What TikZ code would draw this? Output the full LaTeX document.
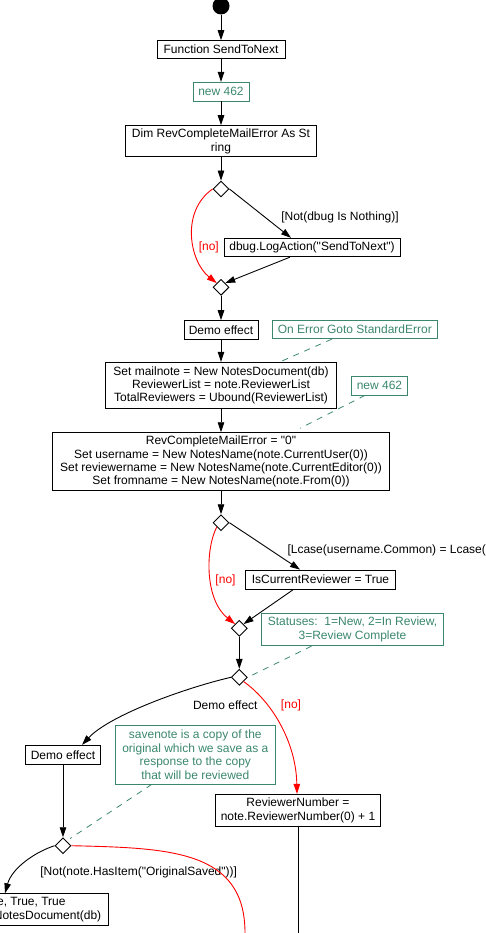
\documentclass[tikz,border=0pt]{standalone}
\usepackage{fontspec}
\setmainfont{Liberation Sans}[Ligatures=TeXOff]
\usetikzlibrary{arrows.meta,shapes.geometric}
\definecolor{notegreen}{RGB}{58,135,108}
\definecolor{flowred}{RGB}{255,0,0}
\newcommand{\sq}{\symbol{34}}
\begin{document}
\begin{tikzpicture}[x=1pt,y=-1pt,
  font=\fontsize{12pt}{13.4pt}\selectfont,
  box/.style={draw, line width=0.9pt, inner sep=0pt, align=center},
  note/.style={draw=notegreen, text=notegreen, line width=0.9pt, inner sep=0pt, align=center},
  dia/.style={draw, diamond, line width=0.9pt, minimum width=16pt, minimum height=16pt, inner sep=0pt, fill=white},
  arr/.style={line width=0.9pt, -{Triangle[length=10pt,width=6.5pt]}},
  noarr/.style={line width=0.9pt, flowred, -{Triangle[length=10pt,width=6.5pt]}},
  noline/.style={line width=0.9pt, flowred},
  plain/.style={line width=0.9pt},
  link/.style={notegreen, line width=0.8pt, dash pattern=on 6pt off 6pt},
  lbl/.style={inner sep=0pt},
  nolbl/.style={inner sep=0pt, text=flowred}]
\useasboundingbox (0,0) rectangle (486,933);

% nodes
\node[circle, fill=black, minimum size=17pt, inner sep=0pt] (start) at (221,6) {};
\node[box, minimum width=128pt, minimum height=17.6pt] (f1) at (221,49.5) {Function SendToNext};
\node[note, minimum width=56pt, minimum height=18.7pt] (n1) at (221,91.7) {new 462};
\node[box, minimum width=191.6pt, minimum height=31.3pt] (dim) at (221,141.3) {Dim RevCompleteMailError As St\\ring};
\node[dia] (d1) at (221,189) {};
\node[box, minimum width=176pt, minimum height=18.4pt] (dbug) at (312,247.5) {dbug.LogAction(\sq SendToNext\sq)};
\node[dia] (d2) at (221,287.3) {};
\node[box, minimum width=74pt, minimum height=18.3pt] (demo1) at (221,329.8) {Demo effect};
\node[note, minimum width=165pt, minimum height=18pt] (onerr) at (354.8,329.7) {On Error Goto StandardError};
\node[box, minimum width=231.7pt, minimum height=46pt] (mail) at (221,385.3) {Set mailnote = New NotesDocument(db)\\ReviewerList = note.ReviewerList\\TotalReviewers = Ubound(ReviewerList)};
\node[note, minimum width=55.6pt, minimum height=18.3pt] (n2) at (379.5,385.8) {new 462};
\node[box, minimum width=337.6pt, minimum height=58pt] (rev) at (221,461.7) {RevCompleteMailError = \sq0\sq\\Set username = New NotesName(note.CurrentUser(0))\\Set reviewername = New NotesName(note.CurrentEditor(0))\\Set fromname = New NotesName(note.From(0))};
\node[dia] (d3) at (221,522.7) {};
\node[box, minimum width=150.4pt, minimum height=19.3pt] (iscur) at (320.5,579.7) {IsCurrentReviewer = True};
\node[dia] (d4) at (239.3,628.3) {};
\node[note, minimum width=181.6pt, minimum height=32.4pt] (stat) at (352.5,629.5) {Statuses:\ \ 1=New, 2=In Review,\\3=Review Complete};
\node[dia] (d5) at (239.3,677.3) {};
\node[box, minimum width=74.3pt, minimum height=19pt] (demo2) at (63,754.8) {Demo effect};
\node[note, minimum width=160pt, minimum height=58.3pt] (save) at (195.3,754.8) {savenote is a copy of the\\original which we save as a\\response to the copy\\that will be reviewed};
\node[box, minimum width=164.6pt, minimum height=31.7pt] (revnum) at (298,810.2) {ReviewerNumber =\\note.ReviewerNumber(0) + 1};
\node[dia] (d6) at (63,845.7) {};
\node[box, anchor=north east, minimum height=32pt, inner xsep=7.6pt, inner ysep=0pt, align=right] (copy) at (109.3,893.3) {e, True, True\hspace*{35.7pt}\\NotesDocument(db)};

\coordinate (endA) at (298,933);
\coordinate (endB) at (245,933);

% labels
\node[lbl] (l1) at (340,217.7) {[Not(dbug Is Nothing)]};
\node[nolbl] (l2) at (208.8,247) {[no]};
\node[lbl, anchor=west] (l3) at (287.3,550.7) {[Lcase(username.Common) = Lcase(};
\node[nolbl] (l4) at (225.5,580.7) {[no]};
\node[lbl] (l5) at (225.3,705) {Demo effect};
\node[nolbl] (l6) at (291,705) {[no]};
\node[lbl] (l7) at (138.7,872.7) {[Not(note.HasItem(\sq OriginalSaved\sq))]};

% connectors
\draw[arr] (start) -- (f1);
\draw[arr] (f1) -- (n1);
\draw[arr] (n1) -- (dim);
\draw[arr] (dim) -- (d1);
\draw[arr] (d1.east) -- ([xshift=-21pt]dbug.north);
\draw[noarr] (d1.west) .. controls (180,212) and (190,262) .. (d2.north west);
\draw[arr] ([xshift=-22pt]dbug.south) -- (d2.north east);
\draw[arr] (d2) -- (demo1);
\draw[arr] (demo1) -- (mail);
\draw[arr] (mail) -- (rev);
\draw[arr] (rev) -- (d3);
\draw[link] ([xshift=-23pt]onerr.south) -- ([xshift=59pt]mail.north);
\draw[link] ([xshift=-14.5pt]n2.south) -- ([xshift=79pt,yshift=4pt]rev.north);
\draw[arr] (d3.east) -- ([xshift=-20.5pt]iscur.north);
\draw[noarr] (d3.south west) .. controls (205,550) and (205,600) .. (d4.north west);
\draw[arr] ([xshift=-27.5pt]iscur.south) -- (d4.north east);
\draw[arr] (d4) -- (d5);
\draw[link] ([xshift=-41pt]stat.south) -- (d5.east);
\draw[arr] (d5.west) .. controls (185,688) and (110,715) .. ([xshift=19pt]demo2.north);
\draw[noarr] (d5.south east) .. controls (270,700) and (296,740) .. ([xshift=-1pt]revnum.north);
\draw[arr] (demo2) -- (d6);
\draw[link] ([xshift=-43.6pt]save.south) -- ([xshift=3pt,yshift=3pt]d6.north east);
\draw[arr] (d6.west) .. controls (35,852) and (12,868) .. ([xshift=-104.3pt]copy.north east);
\draw[noline] (d6.east) .. controls (170,848) and (245,850) .. (endB);
\draw[plain] (revnum) -- (endA);
\end{tikzpicture}
\end{document}
